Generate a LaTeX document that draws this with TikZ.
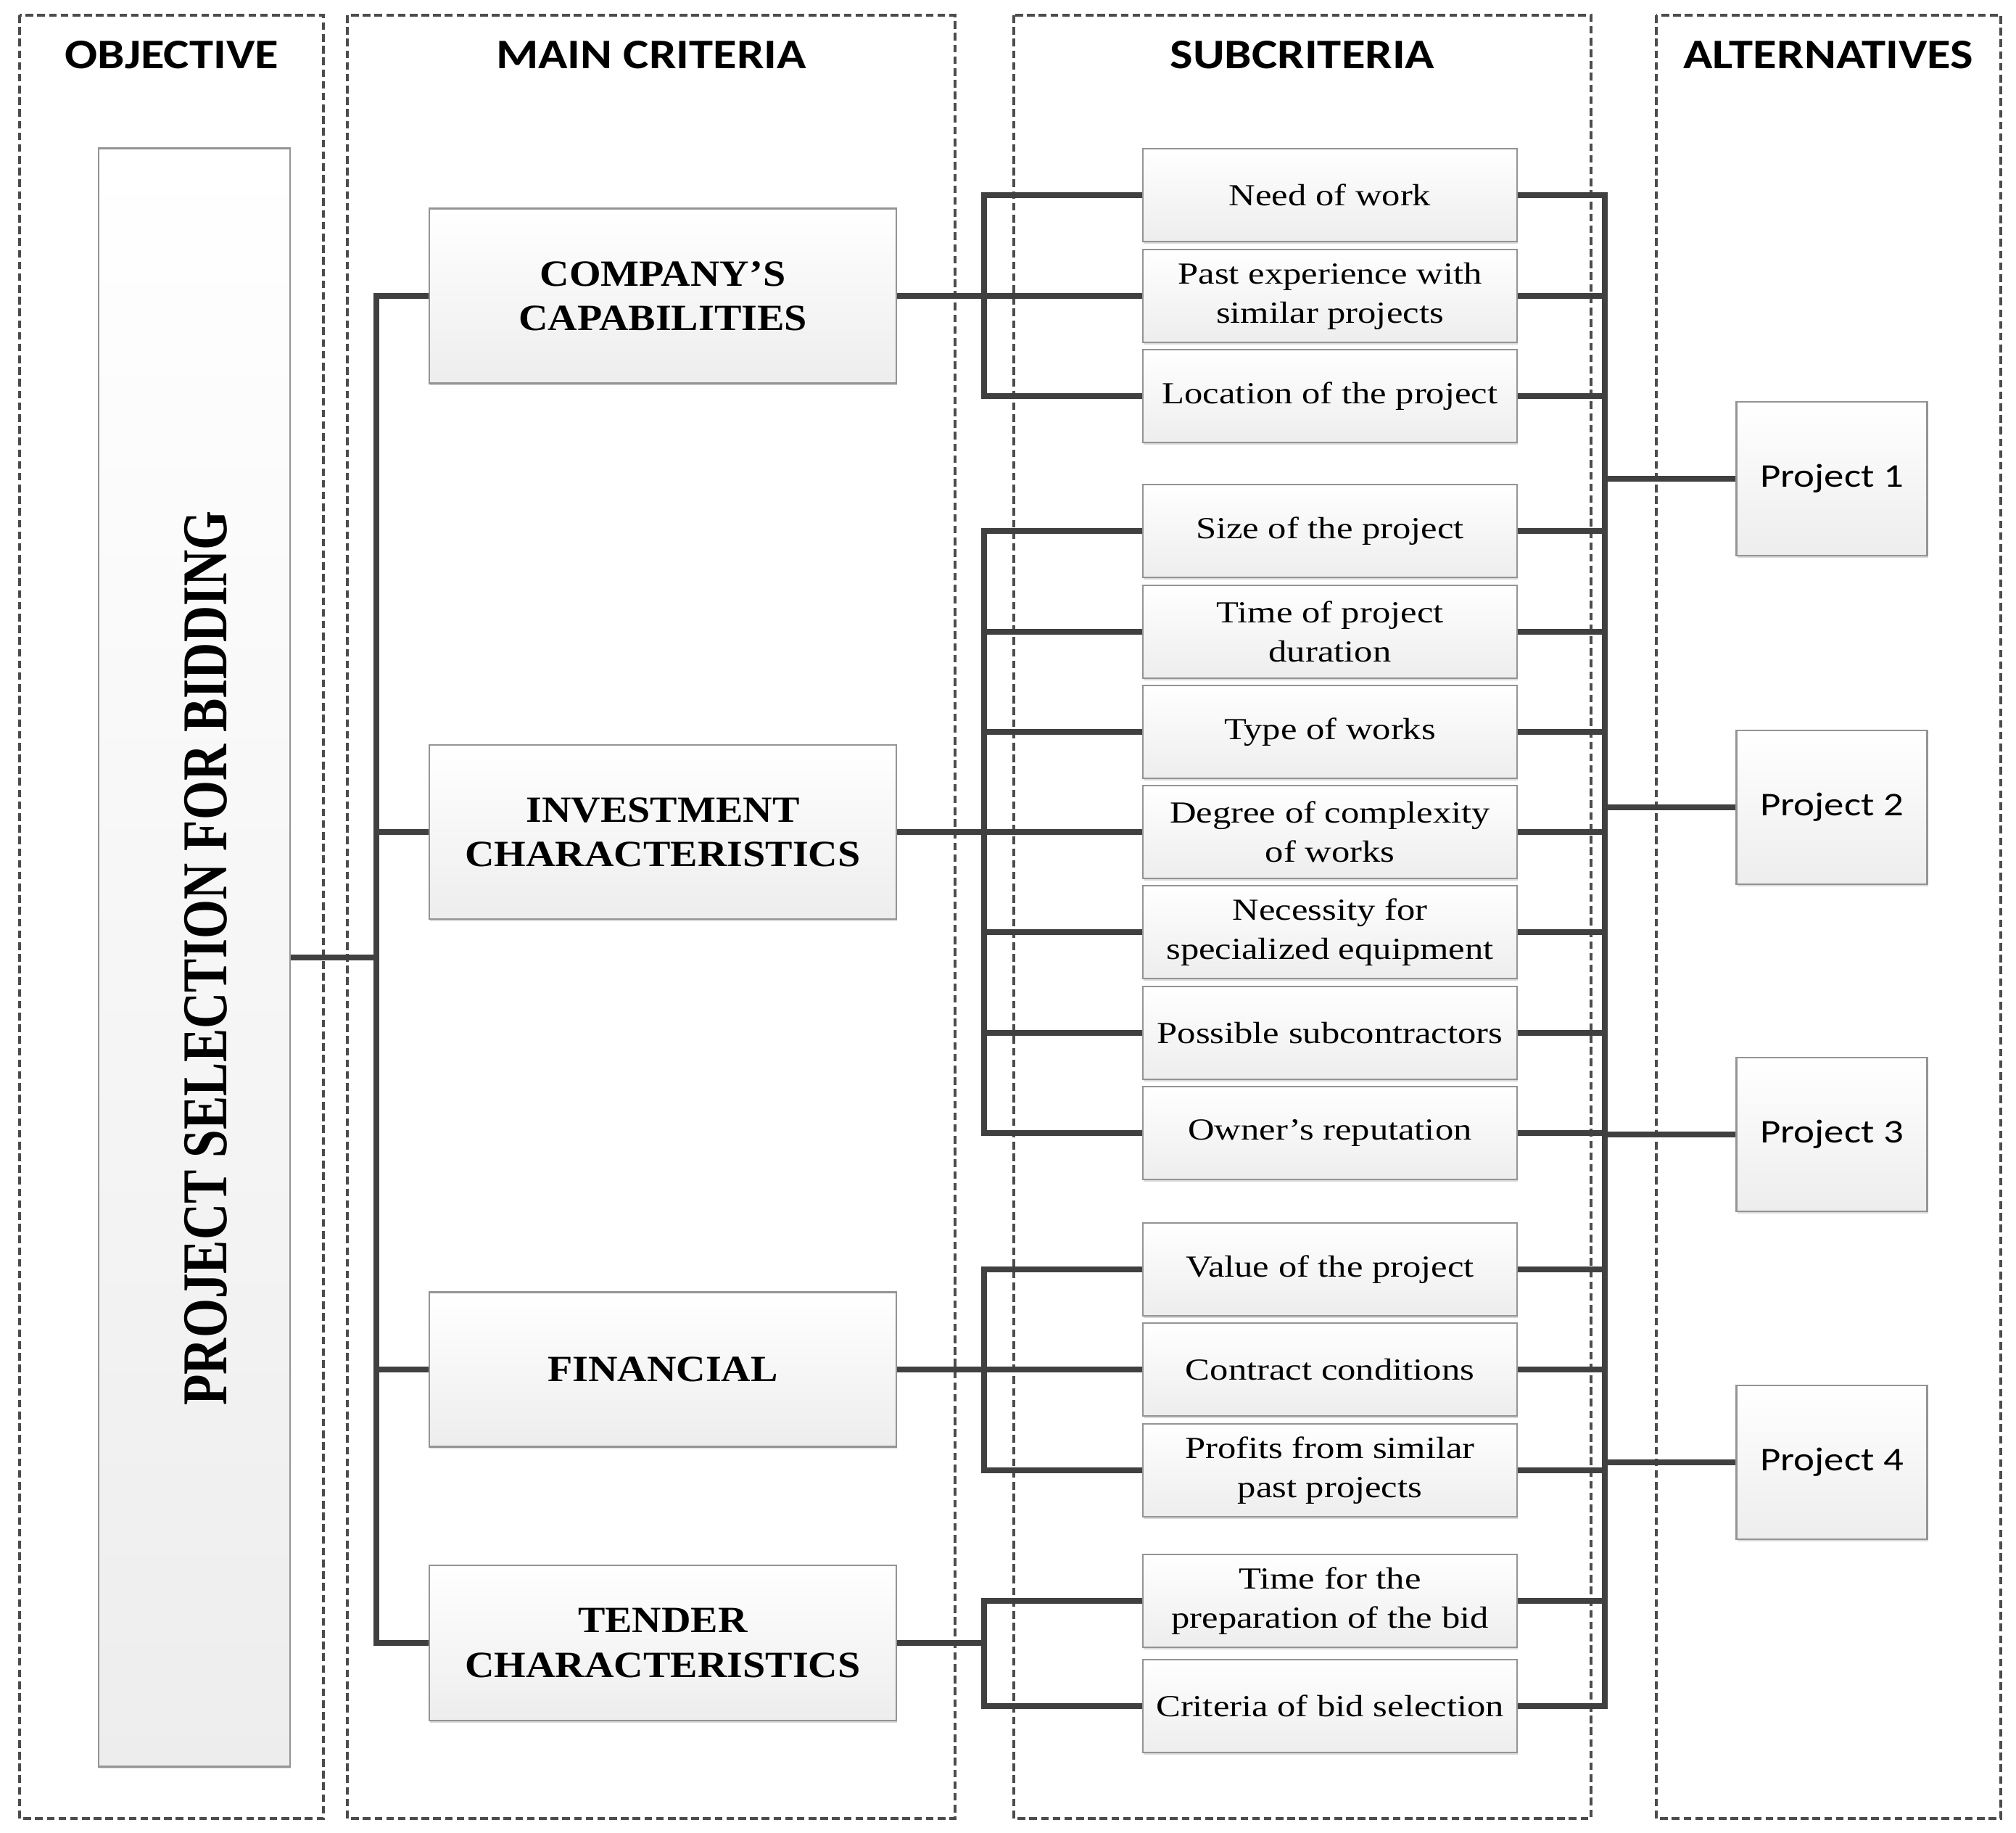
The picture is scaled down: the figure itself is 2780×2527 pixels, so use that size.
\documentclass[tikz,border=0pt]{standalone}
\usepackage{fontspec}
\usetikzlibrary{shadows}
\setmainfont{Liberation Serif}
\newfontfamily\headfont[FakeStretch=1.15]{Carlito}
\newfontfamily\subfont[FakeStretch=1.2]{Liberation Serif}
\newfontfamily\critfont[FakeStretch=1.1]{Liberation Serif}
\newfontfamily\projfont[FakeStretch=1.2]{Carlito}
\newfontfamily\objfont[FakeStretch=0.79]{Liberation Serif}

\newlength{\du}
\setlength{\du}{0.01cm}

\definecolor{linkcolor}{rgb}{0.25,0.25,0.25}
\definecolor{boxline}{rgb}{0.58,0.58,0.58}
\definecolor{boxfill}{rgb}{0.93,0.93,0.93}
\definecolor{framecolor}{rgb}{0.3,0.3,0.3}

\tikzset{
  column/.style={draw=framecolor, line width=0.9pt, dash pattern=on 3pt off 1.6pt},
  colhead/.style={font=\headfont\bfseries\fontsize{16.5pt}{19pt}\selectfont},
  gbox/.style={draw=boxline, line width=0.6pt, top color=white, bottom color=boxfill,
    inner sep=0pt, align=center,
    drop shadow={shadow xshift=0.3pt, shadow yshift=-0.8pt, opacity=0.3}},
  subbox/.style={gbox, minimum width=516\du, minimum height=128\du,
    font=\subfont\fontsize{12pt}{15.4pt}\selectfont},
  critbox/.style={gbox, minimum width=644\du,
    font=\critfont\bfseries\fontsize{14.5pt}{17.4pt}\selectfont},
  projbox/.style={gbox, minimum width=263\du, minimum height=212\du,
    font=\projfont\fontsize{13pt}{15pt}\selectfont},
  link/.style={draw=linkcolor, line width=2.4pt},
}

\begin{document}
\begin{tikzpicture}[x={(1\du,0)},y={(0,-1\du)}]
\useasboundingbox (0,0) rectangle (2780,2527);

% dashed columns
\draw[column] (27,21) rectangle (446,2507);
\draw[column] (479,21) rectangle (1317,2507);
\draw[column] (1398,21) rectangle (2194,2507);
\draw[column] (2284,21) rectangle (2759,2507);

\node[colhead] (hobj) at (237,76) {OBJECTIVE};
\node[colhead] (hcrit) at (898,76) {MAIN CRITERIA};
\node[colhead] (hsub) at (1796,76) {SUBCRITERIA};
\node[colhead] (halt) at (2521,76) {ALTERNATIVES};

% objective
\node[gbox, minimum width=264\du, minimum height=2231\du] (obj) at (268,1320) {};
\node[rotate=90, font=\objfont\bfseries\fontsize{25pt}{30pt}\selectfont] (objtext) at (284,1321) {PROJECT SELECTION FOR BIDDING};

% main criteria
\node[critbox, minimum height=241\du] (cap) at (914,408) {COMPANY’S\\CAPABILITIES};
\node[critbox, minimum height=240\du] (inv) at (914,1147) {INVESTMENT\\CHARACTERISTICS};
\node[critbox, minimum height=213\du] (fin) at (914,1888) {FINANCIAL};
\node[critbox, minimum height=214\du] (ten) at (914,2265) {TENDER\\CHARACTERISTICS};

% subcriteria
\node[subbox] (s1) at (1834,269) {Need of work};
\node[subbox] (s2) at (1834,408) {Past experience with\\similar projects};
\node[subbox] (s3) at (1834,546) {Location of the project};
\node[subbox] (s4) at (1834,732) {Size of the project};
\node[subbox] (s5) at (1834,871) {Time of project\\duration};
\node[subbox] (s6) at (1834,1009) {Type of works};
\node[subbox] (s7) at (1834,1147) {Degree of complexity\\of works};
\node[subbox] (s8) at (1834,1285) {Necessity for\\specialized equipment};
\node[subbox] (s9) at (1834,1424) {Possible subcontractors};
\node[subbox] (s10) at (1834,1562) {Owner’s reputation};
\node[subbox] (s11) at (1834,1750) {Value of the project};
\node[subbox] (s12) at (1834,1888) {Contract conditions};
\node[subbox] (s13) at (1834,2027) {Profits from similar\\past projects};
\node[subbox] (s14) at (1834,2207) {Time for the\\preparation of the bid};
\node[subbox] (s15) at (1834,2352) {Criteria of bid selection};

% alternatives
\node[projbox] (p1) at (2526,660) {Project 1};
\node[projbox] (p2) at (2526,1113) {Project 2};
\node[projbox] (p3) at (2526,1564) {Project 3};
\node[projbox] (p4) at (2526,2016) {Project 4};

% objective to main criteria
\draw[link] (obj.east) -- ++(120,0);
\draw[link] (cap.west) -- ++(-72,0) |- (ten.west);
\draw[link] (inv.west) -- ++(-72,0);
\draw[link] (fin.west) -- ++(-72,0);

% main criteria to subcriteria
\draw[link] (cap.east) -- (s2.west);
\draw[link] (inv.east) -- (s7.west);
\draw[link] (fin.east) -- (s12.west);
\draw[link] (ten.east) -- ++(121,0);
\draw[link] (s1.west) -- ++(-218,0) |- (s3.west);
\draw[link] (s4.west) -- ++(-218,0) |- (s10.west);
\draw[link] (s11.west) -- ++(-218,0) |- (s13.west);
\draw[link] (s14.west) -- ++(-218,0) |- (s15.west);
\foreach \i in {5,6,8,9}
  \draw[link] (s\i.west) -- ++(-218,0);

% subcriteria to alternatives
\draw[link] (s1.east) -- ++(120,0) |- (s15.east);
\foreach \i in {2,...,14}
  \draw[link] (s\i.east) -- ++(120,0);
\foreach \i in {1,...,4}
  \draw[link] (p\i.west) -- ++(-183,0);
\end{tikzpicture}
\end{document}
